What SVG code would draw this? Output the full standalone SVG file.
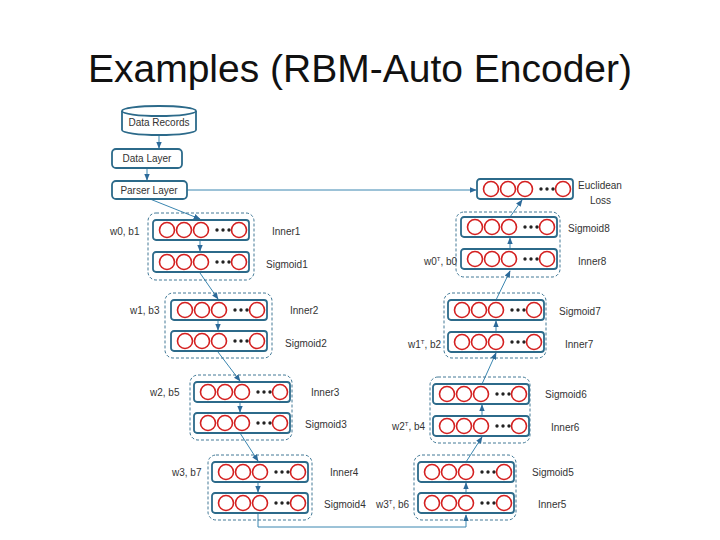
<svg xmlns="http://www.w3.org/2000/svg" xmlns:xlink="http://www.w3.org/1999/xlink" width="720" height="540" viewBox="0 0 720 540">
<style>
.t{font-family:"Liberation Sans",Arial,sans-serif;font-size:10px;fill:#333}
.box{fill:#fff;stroke:#2c6a8a;stroke-width:1.8}
.grp{fill:none;stroke:#2c6a8a;stroke-width:0.9;stroke-dasharray:3,2}
.c{fill:none;stroke:#d42020;stroke-width:1.6}
.con{stroke:#3a86b0;stroke-width:1;fill:none}
</style>
<defs>
<marker id="a" viewBox="0 0 10 10" refX="9" refY="5" markerWidth="7" markerHeight="7" orient="auto"><path d="M0,1L10,5L0,9z" fill="#2c6a9a"/></marker>
<g id="row">
<rect class="box" x="0" y="0" width="96" height="20" rx="3"/>
<circle class="c" cx="14" cy="10" r="7.5"/><circle class="c" cx="31" cy="10" r="7.5"/><circle class="c" cx="48" cy="10" r="7.5"/>
<circle cx="64" cy="10" r="1.7" fill="#222"/><circle cx="70" cy="10" r="1.7" fill="#222"/><circle cx="76" cy="10" r="1.7" fill="#222"/>
<circle class="c" cx="86" cy="10" r="7.5"/>
</g>
</defs>
<rect width="720" height="540" fill="#fff"/>
<text x="360" y="82" text-anchor="middle" font-family="Liberation Sans,Arial,sans-serif" font-size="38" fill="#111" textLength="544" lengthAdjust="spacingAndGlyphs">Examples (RBM-Auto Encoder)</text>

<g id="connectors">
<line class="con" x1="159" y1="128" x2="159" y2="148" marker-end="url(#a)"/>
<line class="con" x1="147" y1="168" x2="147" y2="180" marker-end="url(#a)"/>
<line class="con" x1="187" y1="190" x2="476" y2="190" marker-end="url(#a)"/>
<line class="con" x1="150" y1="199" x2="200" y2="219" marker-end="url(#a)"/>
<line class="con" x1="200" y1="241" x2="200" y2="251" marker-end="url(#a)"/>
<line class="con" x1="200" y1="273" x2="218" y2="299" marker-end="url(#a)"/>
<line class="con" x1="218" y1="321" x2="218" y2="330" marker-end="url(#a)"/>
<line class="con" x1="218" y1="352" x2="240" y2="381" marker-end="url(#a)"/>
<line class="con" x1="240" y1="402" x2="240" y2="412" marker-end="url(#a)"/>
<line class="con" x1="240" y1="433" x2="258" y2="461" marker-end="url(#a)"/>
<line class="con" x1="258" y1="482" x2="258" y2="492" marker-end="url(#a)"/>
<polyline class="con" points="258,514 258,527 466,527 466,515" marker-end="url(#a)"/>
<line class="con" x1="466" y1="493" x2="466" y2="483" marker-end="url(#a)"/>
<line class="con" x1="466" y1="462" x2="482" y2="437" marker-end="url(#a)"/>
<line class="con" x1="482" y1="416" x2="482" y2="405" marker-end="url(#a)"/>
<line class="con" x1="482" y1="384" x2="496" y2="353" marker-end="url(#a)"/>
<line class="con" x1="496" y1="332" x2="496" y2="321" marker-end="url(#a)"/>
<line class="con" x1="496" y1="300" x2="510" y2="271" marker-end="url(#a)"/>
<line class="con" x1="510" y1="249" x2="510" y2="238" marker-end="url(#a)"/>
<line class="con" x1="510" y1="217" x2="522" y2="200" marker-end="url(#a)"/>
</g>

<g id="data-records">
<path class="box" d="M122,111 A37,5 0 0 1 196,111 L196,130 A37,5 0 0 1 122,130 Z"/>
<path class="box" d="M122,111 A37,5 0 0 0 196,111" fill="none"/>
<text class="t" x="159" y="126" text-anchor="middle">Data Records</text>
</g>
<g id="data-layer"><rect class="box" x="112" y="149" width="70" height="19" rx="4"/><text class="t" x="147" y="162" text-anchor="middle">Data Layer</text></g>
<g id="parser-layer"><rect class="box" x="112" y="181" width="75" height="18" rx="4"/><text class="t" x="149" y="194" text-anchor="middle">Parser Layer</text></g>

<g id="rbm1"><rect class="grp" x="148" y="213" width="106" height="67" rx="8"/>
<use href="#row" x="153" y="220"/><use href="#row" x="153" y="252"/>
<text class="t" x="110" y="235">w0, b1</text><text class="t" x="272" y="235">Inner1</text><text class="t" x="266" y="268">Sigmoid1</text></g>
<g id="rbm2"><rect class="grp" x="165" y="293" width="107" height="65" rx="8"/>
<use href="#row" x="171" y="300"/><use href="#row" x="171" y="331"/>
<text class="t" x="130" y="314">w1, b3</text><text class="t" x="290" y="314">Inner2</text><text class="t" x="285" y="347">Sigmoid2</text></g>
<g id="rbm3"><rect class="grp" x="190" y="375" width="102" height="65" rx="8"/>
<use href="#row" x="194" y="382"/><use href="#row" x="194" y="413"/>
<text class="t" x="150" y="396">w2, b5</text><text class="t" x="311" y="396">Inner3</text><text class="t" x="305" y="428">Sigmoid3</text></g>
<g id="rbm4"><rect class="grp" x="208" y="455" width="104" height="65" rx="8"/>
<use href="#row" x="212" y="462"/><use href="#row" x="212" y="493"/>
<text class="t" x="172" y="476">w3, b7</text><text class="t" x="330" y="476">Inner4</text><text class="t" x="324" y="508">Sigmoid4</text></g>

<g id="rbm5"><rect class="grp" x="414" y="455" width="102" height="65" rx="8"/>
<use href="#row" x="418" y="493"/><use href="#row" x="418" y="462"/>
<text class="t" x="376" y="508">w3<tspan font-size="6" dy="-4">T</tspan><tspan dy="4">, b6</tspan></text><text class="t" x="538" y="508">Inner5</text><text class="t" x="532" y="476">Sigmoid5</text></g>
<g id="rbm6"><rect class="grp" x="430" y="377" width="100" height="66" rx="8"/>
<use href="#row" x="433" y="416"/><use href="#row" x="433" y="384"/>
<text class="t" x="392" y="430">w2<tspan font-size="6" dy="-4">T</tspan><tspan dy="4">, b4</tspan></text><text class="t" x="551" y="431">Inner6</text><text class="t" x="545" y="398">Sigmoid6</text></g>
<g id="rbm7"><rect class="grp" x="444" y="293" width="102" height="65" rx="8"/>
<use href="#row" x="448" y="332"/><use href="#row" x="448" y="300"/>
<text class="t" x="408" y="348">w1<tspan font-size="6" dy="-4">T</tspan><tspan dy="4">, b2</tspan></text><text class="t" x="565" y="348">Inner7</text><text class="t" x="559" y="315">Sigmoid7</text></g>
<g id="rbm8"><rect class="grp" x="456" y="212" width="104" height="65" rx="8"/>
<use href="#row" x="461" y="249"/><use href="#row" x="461" y="217"/>
<text class="t" x="424" y="265">w0<tspan font-size="6" dy="-4">T</tspan><tspan dy="4">, b0</tspan></text><text class="t" x="578" y="265">Inner8</text><text class="t" x="568" y="232">Sigmoid8</text></g>
<g id="euclidean"><use href="#row" x="477" y="179"/>
<text class="t" x="578" y="189">Euclidean</text><text class="t" x="590" y="204">Loss</text></g>
</svg>
